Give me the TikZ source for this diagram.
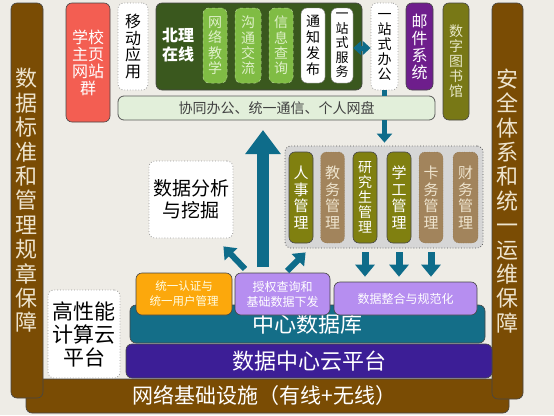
\documentclass[tikz,border=0pt]{standalone}
\usepackage{fontspec}
\setmainfont{Noto Sans CJK SC}
\usetikzlibrary{arrows.meta,calc}
\definecolor{bgc}{RGB}{238,236,230}
\definecolor{brownbar}{RGB}{122,76,4}
\definecolor{redbox}{RGB}{243,94,82}
\definecolor{darkgreen}{RGB}{58,88,30}
\definecolor{midgreen}{RGB}{128,188,68}
\definecolor{greentext}{RGB}{222,240,200}
\definecolor{mailpurple}{RGB}{110,30,140}
\definecolor{libolive}{RGB}{120,120,22}
\definecolor{libtext}{RGB}{232,232,200}
\definecolor{collabfill}{RGB}{226,239,218}
\definecolor{teal}{RGB}{14,108,138}
\definecolor{graycont}{RGB}{214,214,214}
\definecolor{olivem}{RGB}{128,128,16}
\definecolor{tanm}{RGB}{162,132,92}
\definecolor{tantext}{RGB}{238,228,206}
\definecolor{orangebox}{RGB}{252,168,12}
\definecolor{lilac}{RGB}{182,142,240}
\definecolor{dbteal}{RGB}{20,110,136}
\definecolor{cloudpurple}{RGB}{60,30,150}
\definecolor{edge}{RGB}{70,70,70}
\tikzset{
  bx/.style 2 args={rounded corners=6pt, inner sep=0pt, align=center,
    minimum width=#1pt, minimum height=#2pt},
  solidbox/.style={draw=edge, line width=0.6pt},
  dotbox/.style={draw=gray!80, dotted, line width=0.8pt, fill=white},
  vt/.style={font=\fontsize{15}{16.7}\selectfont},
  arr/.style={draw=teal, line width=#1pt},
}
\begin{document}
\begin{tikzpicture}[x=1pt,y=-1pt]
\fill[bgc] (0,0) rectangle (554,415);
\useasboundingbox (0,0) rectangle (554,415);

% bottom U
\node[bx={483}{34}, solidbox, fill=brownbar, text=white,
  font=\fontsize{21}{23}\selectfont] (net) at (267.5,396) {\hspace*{-6pt}网络基础设施（有线+无线）};
\node[bx={32}{395}, solidbox, fill=brownbar, text=tantext,
  font=\fontsize{22}{24.4}\selectfont] (lstd) at (27,200.5)
  {数\\据\\标\\准\\和\\管\\理\\规\\章\\保\\障};
\node[bx={31}{396}, solidbox, fill=brownbar, text=tantext,
  font=\fontsize{22}{24.4}\selectfont] (rsec) at (507.5,201)
  {安\\全\\体\\系\\和\\统\\一\\运\\维\\保\\障};

% platform layers
\node[bx={366}{34}, solidbox, fill=cloudpurple, text=white,
  font=\fontsize{22}{24}\selectfont] (cloud) at (309,361) {\raisebox{-2pt}{数据中心云平台}};
\node[bx={355}{38}, solidbox, fill=dbteal, text=white,
  font=\fontsize{22}{24}\selectfont] (db) at (307.5,324) {\raisebox{-3pt}{中心数据库}};
\node[bx={96}{42}, solidbox, fill=orangebox, text=white!90!yellow,
  font=\fontsize{11.5}{15}\selectfont] (auth) at (184,294) {统一认证与\\统一用户管理};
\node[bx={95}{42}, solidbox, fill=lilac, text=white,
  font=\fontsize{12}{15}\selectfont] (grant) at (282.5,294) {授权查询和\\基础数据下发};
\node[bx={143}{33}, solidbox, fill=lilac, text=white,
  font=\fontsize{12}{15}\selectfont] (integ) at (405.5,298.5) {数据整合与规范化};
\node[bx={72}{88}, dotbox, font=\fontsize{21}{23}\selectfont] (hpc) at (84,334) {高性能\\计算云\\平台};

% middle
\node[bx={84}{77}, dotbox, font=\fontsize{19}{22}\selectfont] (mining) at (191,199.5) {数据分析\\与挖掘};
\node[bx={198}{102}, draw=gray!70!black, dotted, line width=0.8pt, fill=graycont] (mgmt) at (384,197) {};
\node[bx={24}{91}, solidbox, fill=olivem, text=white, vt] (m1) at (301,197.5) {人\\事\\管\\理};
\node[bx={24}{91}, draw=tanm!70!black, dotted, fill=tanm, text=tantext, vt] (m2) at (332.5,197.5) {教\\务\\管\\理};
\node[bx={24}{91}, solidbox, fill=olivem, text=white, font=\fontsize{14}{15}\selectfont] (m3) at (365,197.5) {研\\究\\生\\管\\理};
\node[bx={24}{91}, solidbox, fill=olivem, text=white, vt] (m4) at (399,197.5) {学\\工\\管\\理};
\node[bx={24}{91}, draw=tanm!70!black, dotted, fill=tanm, text=tantext, vt] (m5) at (431,197.5) {卡\\务\\管\\理};
\node[bx={25}{91}, draw=tanm!70!black, dotted, fill=tanm, text=tantext, vt] (m6) at (465.5,197.5) {财\\务\\管\\理};

% top row
\node[bx={44}{119}, solidbox, fill=redbox, text=white,
  font=\fontsize{16}{17}\selectfont] (web) at (88,62.5) {学校\\主页\\网站\\群};
\node[bx={30}{87}, dotbox, font=\fontsize{16}{16.7}\selectfont] (mobile) at (133,46.5) {移\\动\\应\\用};
\node[bx={206}{87}, solidbox, fill=darkgreen] (bit) at (259,46.5) {};
\node[text=white, font=\fontsize{16}{19}\selectfont\bfseries, align=center, inner sep=0pt] (bitlabel) at (178,45) {北理\\在线};
\node[bx={24}{75}, draw=greentext!60!midgreen, dashed, line width=0.5pt, fill=midgreen, text=greentext,
  font=\fontsize{14}{15.4}\selectfont] (g1) at (215,45.5) {网\\络\\教\\学};
\node[bx={26}{75}, draw=greentext!60!midgreen, dashed, line width=0.5pt, fill=midgreen, text=greentext,
  font=\fontsize{14}{15.4}\selectfont] (g2) at (248,45.5) {沟\\通\\交\\流};
\node[bx={24}{75}, draw=greentext!60!midgreen, dashed, line width=0.5pt, fill=midgreen, text=greentext,
  font=\fontsize{14}{15.4}\selectfont] (g3) at (281,45.5) {信\\息\\查\\询};
\node[bx={24}{75}, draw=gray, fill=white, font=\fontsize{14}{16}\selectfont] (notice) at (313,45.5) {通\\知\\发\\布};
\node[bx={22}{75}, draw=gray, fill=white, font=\fontsize{13}{14.5}\selectfont] (service) at (342,45.5) {一\\站\\式\\服\\务};
\node[bx={27}{87}, dotbox, font=\fontsize{14}{15}\selectfont] (office) at (384.5,46.5) {一\\站\\式\\办\\公};
\node[bx={27}{87}, solidbox, fill=mailpurple, text=white, font=\fontsize{16}{17}\selectfont] (mail) at (419.5,46.5) {邮\\件\\系\\统};
\node[bx={26}{117}, solidbox, fill=libolive, text=libtext, font=\fontsize{14}{15}\selectfont] (lib) at (456,61.5) {数\\字\\图\\书\\馆};
\node[bx={317}{24}, draw=gray!70!black, line width=0.8pt, fill=collabfill, text=black!75,
  font=\fontsize{14}{16}\selectfont] (collab) at (276.5,108) {协同办公、统一通信、个人网盘};

% connectors
\coordinate (ylev) at (0,48);
\draw[arr=5] (office.south) -- (office.south |- collab.north);
\draw[arr=5, -{Triangle[width=15pt,length=9pt]}] (office.south |- collab.south) -- ($(office.south |- mgmt.north)+(0,-3)$);
\draw[arr=5, {Triangle[width=14pt,length=8pt]}-{Triangle[width=14pt,length=8pt]}] (service.east |- ylev) -- (office.west |- ylev);
\coordinate (bigtail) at (263,267);
\coordinate (bigtip) at (263,130);
\draw[arr=12, -{Triangle[width=34pt,length=24pt]}] (bigtail) -- (bigtip);
\coordinate (dl) at (245,269);
\draw[arr=6, -{Triangle[width=17pt,length=11pt]}] (dl) -- ($(mining.south east)+(-10,8)$);
\coordinate (dr) at (287,271);
\draw[arr=6, -{Triangle[width=17pt,length=11pt]}] (dr) -- ($(mgmt.south west)+(21,4)$);
\foreach \m in {m3,m4,m5}{
  \draw[arr=7, -{Triangle[width=19pt,length=12pt]}] ($(\m.south |- mgmt.south)+(0,4)$) -- ($(\m.south |- integ.north)+(0,-5)$);
}
\end{tikzpicture}
\end{document}
